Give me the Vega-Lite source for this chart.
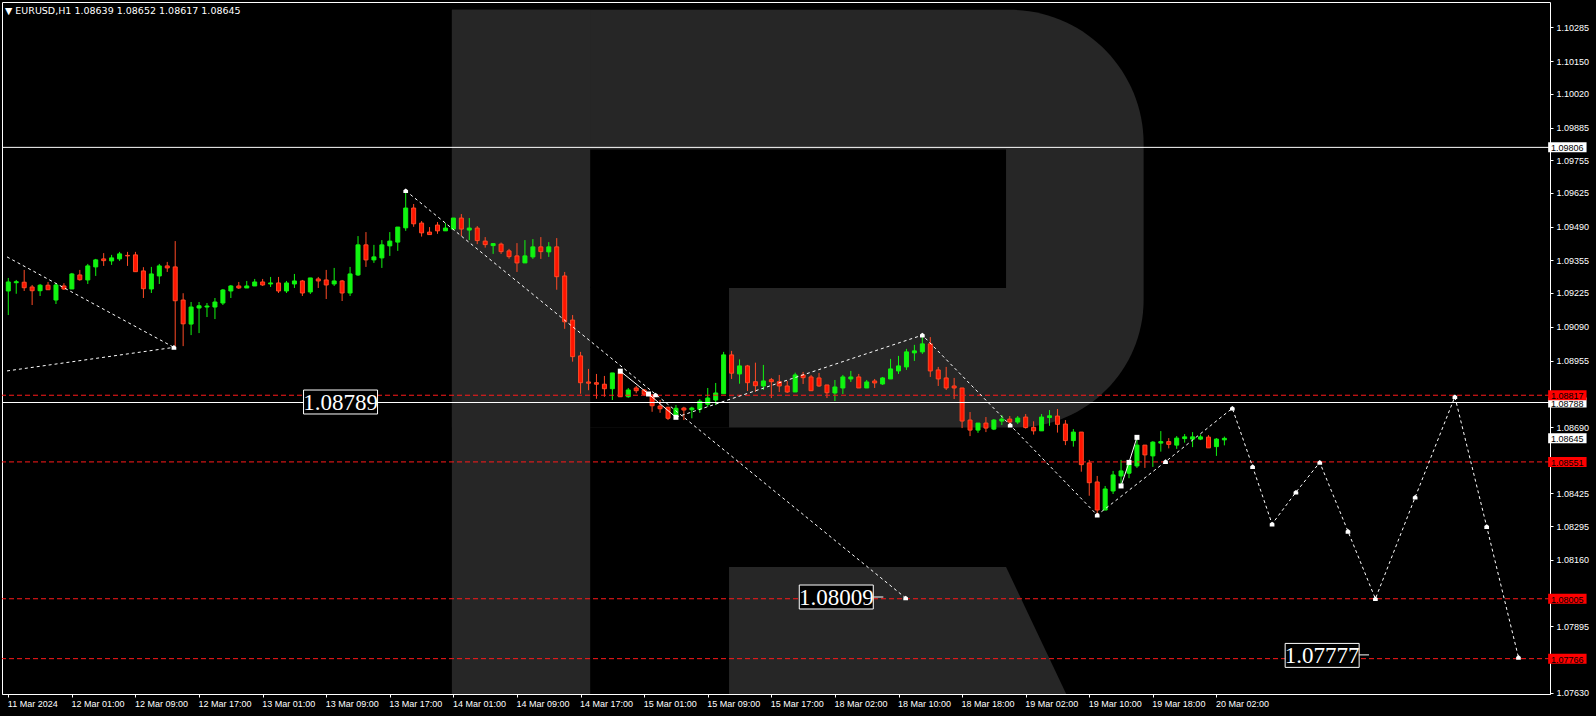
{
  "$schema": "https://vega.github.io/schema/vega-lite/v6.json",
  "width": 1548,
  "height": 692,
  "autosize": {"type": "none"},
  "padding": {"left": 2, "top": 2, "right": 46, "bottom": 22},
  "background": "#000000",
  "config": {
    "view": {"stroke": "#ffffff", "strokeWidth": 1, "fill": "#000000"},
    "font": "Liberation Sans",
    "axis": {"labelOverlap": false}
  },
  "title": {
    "text": "▼ EURUSD,H1  1.08639 1.08652 1.08617 1.08645",
    "anchor": "start",
    "frame": "group",
    "orient": "top",
    "offset": -13,
    "dx": 3,
    "color": "#ffffff",
    "fontSize": 9.5,
    "fontWeight": "normal",
    "font": "DejaVu Sans"
  },
  "datasets": {
    "candles": [
      {"i":0,"o":1.09233,"h":1.09285,"l":1.09137,"c":1.09269},
      {"i":1,"o":1.09266,"h":1.09277,"l":1.09222,"c":1.09270},
      {"i":2,"o":1.09268,"h":1.09317,"l":1.09233,"c":1.09246},
      {"i":3,"o":1.09249,"h":1.09257,"l":1.09177,"c":1.09234},
      {"i":4,"o":1.09234,"h":1.09261,"l":1.09213,"c":1.09256},
      {"i":5,"o":1.09256,"h":1.09269,"l":1.09238,"c":1.09238},
      {"i":6,"o":1.09197,"h":1.09264,"l":1.09181,"c":1.09257},
      {"i":7,"o":1.09253,"h":1.09264,"l":1.09237,"c":1.09241},
      {"i":8,"o":1.09241,"h":1.09305,"l":1.09241,"c":1.09301},
      {"i":9,"o":1.09297,"h":1.09317,"l":1.09274,"c":1.09278},
      {"i":10,"o":1.09277,"h":1.09341,"l":1.09261,"c":1.09333},
      {"i":11,"o":1.09329,"h":1.09361,"l":1.09293,"c":1.09357},
      {"i":12,"o":1.09361,"h":1.09384,"l":1.09333,"c":1.09354},
      {"i":13,"o":1.09353,"h":1.09377,"l":1.09337,"c":1.09365},
      {"i":14,"o":1.09361,"h":1.09389,"l":1.09353,"c":1.09381},
      {"i":15,"o":1.09375,"h":1.09389,"l":1.09333,"c":1.09373},
      {"i":16,"o":1.09377,"h":1.09389,"l":1.09310,"c":1.09310},
      {"i":17,"o":1.09313,"h":1.09328,"l":1.09205,"c":1.09242},
      {"i":18,"o":1.09241,"h":1.09329,"l":1.09225,"c":1.09301},
      {"i":19,"o":1.09293,"h":1.09341,"l":1.09261,"c":1.09333},
      {"i":20,"o":1.09333,"h":1.09349,"l":1.09309,"c":1.09325},
      {"i":21,"o":1.09329,"h":1.09432,"l":1.09011,"c":1.09194},
      {"i":22,"o":1.09197,"h":1.09224,"l":1.09013,"c":1.09102},
      {"i":23,"o":1.09101,"h":1.09189,"l":1.09057,"c":1.09169},
      {"i":24,"o":1.09165,"h":1.09189,"l":1.09065,"c":1.09174},
      {"i":25,"o":1.09169,"h":1.09185,"l":1.09129,"c":1.09173},
      {"i":26,"o":1.09169,"h":1.09205,"l":1.09121,"c":1.09189},
      {"i":27,"o":1.09185,"h":1.09241,"l":1.09177,"c":1.09237},
      {"i":28,"o":1.09233,"h":1.09257,"l":1.09205,"c":1.09253},
      {"i":29,"o":1.09253,"h":1.09269,"l":1.09241,"c":1.09245},
      {"i":30,"o":1.09245,"h":1.09273,"l":1.09245,"c":1.09253},
      {"i":31,"o":1.09253,"h":1.09281,"l":1.09253,"c":1.09269},
      {"i":32,"o":1.09269,"h":1.09281,"l":1.09253,"c":1.09257},
      {"i":33,"o":1.09261,"h":1.09289,"l":1.09249,"c":1.09265},
      {"i":34,"o":1.09265,"h":1.09289,"l":1.09225,"c":1.09233},
      {"i":35,"o":1.09233,"h":1.09273,"l":1.09225,"c":1.09265},
      {"i":36,"o":1.09261,"h":1.09301,"l":1.09245,"c":1.09273},
      {"i":37,"o":1.09273,"h":1.09277,"l":1.09213,"c":1.09225},
      {"i":38,"o":1.09229,"h":1.09285,"l":1.09221,"c":1.09285},
      {"i":39,"o":1.09281,"h":1.09289,"l":1.09245,"c":1.09273},
      {"i":40,"o":1.09277,"h":1.09317,"l":1.09201,"c":1.09257},
      {"i":41,"o":1.09261,"h":1.09325,"l":1.09253,"c":1.09273},
      {"i":42,"o":1.09273,"h":1.09277,"l":1.09193,"c":1.09225},
      {"i":43,"o":1.09225,"h":1.09329,"l":1.09213,"c":1.09301},
      {"i":44,"o":1.09297,"h":1.09452,"l":1.09293,"c":1.09417},
      {"i":45,"o":1.09417,"h":1.09468,"l":1.09329,"c":1.09357},
      {"i":46,"o":1.09357,"h":1.09417,"l":1.09345,"c":1.09369},
      {"i":47,"o":1.09365,"h":1.09436,"l":1.09325,"c":1.09417},
      {"i":48,"o":1.09413,"h":1.09468,"l":1.09373,"c":1.09432},
      {"i":49,"o":1.09428,"h":1.09488,"l":1.09393,"c":1.09488},
      {"i":50,"o":1.09485,"h":1.09625,"l":1.09473,"c":1.09564},
      {"i":51,"o":1.09564,"h":1.09580,"l":1.09489,"c":1.09501},
      {"i":52,"o":1.09504,"h":1.09512,"l":1.09450,"c":1.09465},
      {"i":53,"o":1.09468,"h":1.09488,"l":1.09458,"c":1.09458},
      {"i":54,"o":1.09496,"h":1.09508,"l":1.09461,"c":1.09473},
      {"i":55,"o":1.09473,"h":1.09504,"l":1.09473,"c":1.09484},
      {"i":56,"o":1.09480,"h":1.09524,"l":1.09480,"c":1.09524},
      {"i":57,"o":1.09524,"h":1.09540,"l":1.09452,"c":1.09480},
      {"i":58,"o":1.09476,"h":1.09524,"l":1.09436,"c":1.09484},
      {"i":59,"o":1.09484,"h":1.09492,"l":1.09420,"c":1.09434},
      {"i":60,"o":1.09432,"h":1.09448,"l":1.09406,"c":1.09418},
      {"i":61,"o":1.09414,"h":1.09422,"l":1.09381,"c":1.09422},
      {"i":62,"o":1.09420,"h":1.09426,"l":1.09381,"c":1.09390},
      {"i":63,"o":1.09393,"h":1.09401,"l":1.09362,"c":1.09370},
      {"i":64,"o":1.09373,"h":1.09424,"l":1.09309,"c":1.09345},
      {"i":65,"o":1.09345,"h":1.09436,"l":1.09345,"c":1.09373},
      {"i":66,"o":1.09369,"h":1.09440,"l":1.09361,"c":1.09409},
      {"i":67,"o":1.09409,"h":1.09448,"l":1.09361,"c":1.09390},
      {"i":68,"o":1.09389,"h":1.09428,"l":1.09369,"c":1.09409},
      {"i":69,"o":1.09409,"h":1.09444,"l":1.09238,"c":1.09290},
      {"i":70,"o":1.09293,"h":1.09309,"l":1.09082,"c":1.09110},
      {"i":71,"o":1.09117,"h":1.09137,"l":1.08951,"c":1.08971},
      {"i":72,"o":1.08974,"h":1.08990,"l":1.08823,"c":1.08867},
      {"i":73,"o":1.08870,"h":1.08922,"l":1.08837,"c":1.08865},
      {"i":74,"o":1.08867,"h":1.08902,"l":1.08803,"c":1.08861},
      {"i":75,"o":1.08861,"h":1.08894,"l":1.08811,"c":1.08843},
      {"i":76,"o":1.08843,"h":1.08906,"l":1.08798,"c":1.08906},
      {"i":77,"o":1.08905,"h":1.08922,"l":1.08811,"c":1.08811},
      {"i":78,"o":1.08811,"h":1.08846,"l":1.08807,"c":1.08838},
      {"i":79,"o":1.08846,"h":1.08854,"l":1.08825,"c":1.08835},
      {"i":80,"o":1.08838,"h":1.08842,"l":1.08814,"c":1.08821},
      {"i":81,"o":1.08814,"h":1.08822,"l":1.08751,"c":1.08775},
      {"i":82,"o":1.08774,"h":1.08798,"l":1.08747,"c":1.08763},
      {"i":83,"o":1.08769,"h":1.08771,"l":1.08718,"c":1.08725},
      {"i":84,"o":1.08737,"h":1.08778,"l":1.08722,"c":1.08765},
      {"i":85,"o":1.08766,"h":1.08771,"l":1.08718,"c":1.08758},
      {"i":86,"o":1.08759,"h":1.08771,"l":1.08725,"c":1.08766},
      {"i":87,"o":1.08761,"h":1.08802,"l":1.08747,"c":1.08793},
      {"i":88,"o":1.08781,"h":1.08846,"l":1.08771,"c":1.08806},
      {"i":89,"o":1.08798,"h":1.08866,"l":1.08778,"c":1.08826},
      {"i":90,"o":1.08823,"h":1.08990,"l":1.08823,"c":1.08978},
      {"i":91,"o":1.08978,"h":1.08994,"l":1.08882,"c":1.08905},
      {"i":92,"o":1.08902,"h":1.08960,"l":1.08863,"c":1.08934},
      {"i":93,"o":1.08934,"h":1.08938,"l":1.08834,"c":1.08867},
      {"i":94,"o":1.08871,"h":1.08947,"l":1.08830,"c":1.08855},
      {"i":95,"o":1.08854,"h":1.08938,"l":1.08838,"c":1.08874},
      {"i":96,"o":1.08879,"h":1.08886,"l":1.08806,"c":1.08871},
      {"i":97,"o":1.08871,"h":1.08898,"l":1.08830,"c":1.08854},
      {"i":98,"o":1.08854,"h":1.08874,"l":1.08826,"c":1.08830},
      {"i":99,"o":1.08830,"h":1.08907,"l":1.08830,"c":1.08898},
      {"i":100,"o":1.08898,"h":1.08910,"l":1.08862,"c":1.08887},
      {"i":101,"o":1.08890,"h":1.08898,"l":1.08835,"c":1.08835},
      {"i":102,"o":1.08886,"h":1.08906,"l":1.08850,"c":1.08854},
      {"i":103,"o":1.08858,"h":1.08858,"l":1.08806,"c":1.08827},
      {"i":104,"o":1.08826,"h":1.08878,"l":1.08794,"c":1.08850},
      {"i":105,"o":1.08846,"h":1.08898,"l":1.08822,"c":1.08890},
      {"i":106,"o":1.08882,"h":1.08914,"l":1.08870,"c":1.08890},
      {"i":107,"o":1.08890,"h":1.08902,"l":1.08846,"c":1.08846},
      {"i":108,"o":1.08846,"h":1.08878,"l":1.08846,"c":1.08870},
      {"i":109,"o":1.08874,"h":1.08882,"l":1.08846,"c":1.08866},
      {"i":110,"o":1.08862,"h":1.08890,"l":1.08858,"c":1.08886},
      {"i":111,"o":1.08882,"h":1.08962,"l":1.08882,"c":1.08922},
      {"i":112,"o":1.08914,"h":1.08974,"l":1.08902,"c":1.08934},
      {"i":113,"o":1.08930,"h":1.09002,"l":1.08918,"c":1.08990},
      {"i":114,"o":1.08986,"h":1.09018,"l":1.08954,"c":1.08994},
      {"i":115,"o":1.08990,"h":1.09049,"l":1.08982,"c":1.09022},
      {"i":116,"o":1.09022,"h":1.09049,"l":1.08890,"c":1.08914},
      {"i":117,"o":1.08918,"h":1.08930,"l":1.08854,"c":1.08882},
      {"i":118,"o":1.08886,"h":1.08930,"l":1.08838,"c":1.08846},
      {"i":119,"o":1.08854,"h":1.08886,"l":1.08802,"c":1.08846},
      {"i":120,"o":1.08846,"h":1.08846,"l":1.08686,"c":1.08714},
      {"i":121,"o":1.08718,"h":1.08750,"l":1.08654,"c":1.08678},
      {"i":122,"o":1.08678,"h":1.08706,"l":1.08667,"c":1.08706},
      {"i":123,"o":1.08706,"h":1.08730,"l":1.08670,"c":1.08686},
      {"i":124,"o":1.08682,"h":1.08722,"l":1.08678,"c":1.08718},
      {"i":125,"o":1.08714,"h":1.08738,"l":1.08698,"c":1.08722},
      {"i":126,"o":1.08722,"h":1.08734,"l":1.08698,"c":1.08710},
      {"i":127,"o":1.08710,"h":1.08734,"l":1.08702,"c":1.08726},
      {"i":128,"o":1.08730,"h":1.08742,"l":1.08684,"c":1.08688},
      {"i":129,"o":1.08689,"h":1.08713,"l":1.08660,"c":1.08675},
      {"i":130,"o":1.08675,"h":1.08742,"l":1.08675,"c":1.08730},
      {"i":131,"o":1.08728,"h":1.08758,"l":1.08695,"c":1.08735},
      {"i":132,"o":1.08734,"h":1.08762,"l":1.08668,"c":1.08701},
      {"i":133,"o":1.08702,"h":1.08718,"l":1.08618,"c":1.08636},
      {"i":134,"o":1.08636,"h":1.08682,"l":1.08612,"c":1.08670},
      {"i":135,"o":1.08670,"h":1.08670,"l":1.08512,"c":1.08540},
      {"i":136,"o":1.08547,"h":1.08559,"l":1.08416,"c":1.08468},
      {"i":137,"o":1.08471,"h":1.08495,"l":1.08332,"c":1.08359},
      {"i":138,"o":1.08359,"h":1.08455,"l":1.08359,"c":1.08443},
      {"i":139,"o":1.08435,"h":1.08515,"l":1.08423,"c":1.08499},
      {"i":140,"o":1.08495,"h":1.08559,"l":1.08455,"c":1.08515},
      {"i":141,"o":1.08506,"h":1.08549,"l":1.08486,"c":1.08541},
      {"i":142,"o":1.08535,"h":1.08649,"l":1.08527,"c":1.08618},
      {"i":143,"o":1.08618,"h":1.08618,"l":1.08527,"c":1.08579},
      {"i":144,"o":1.08575,"h":1.08634,"l":1.08531,"c":1.08630},
      {"i":145,"o":1.08626,"h":1.08674,"l":1.08592,"c":1.08632},
      {"i":146,"o":1.08632,"h":1.08646,"l":1.08605,"c":1.08621},
      {"i":147,"o":1.08618,"h":1.08654,"l":1.08603,"c":1.08646},
      {"i":148,"o":1.08644,"h":1.08662,"l":1.08628,"c":1.08651},
      {"i":149,"o":1.08642,"h":1.08670,"l":1.08610,"c":1.08651},
      {"i":150,"o":1.08642,"h":1.08660,"l":1.08638,"c":1.08651},
      {"i":151,"o":1.08650,"h":1.08658,"l":1.08607,"c":1.08607},
      {"i":152,"o":1.08612,"h":1.08646,"l":1.08575,"c":1.08642},
      {"i":153,"o":1.08639,"h":1.08652,"l":1.08617,"c":1.08645}
    ],
    "forecast": [
      {"g":"a","k":0,"i":-0.16,"p":1.09369},
      {"g":"a","k":1,"i":20.84,"p":1.09008},
      {"g":"b","k":0,"i":-0.16,"p":1.08914},
      {"g":"b","k":1,"i":20.84,"p":1.09008},
      {"g":"c","k":0,"i":50.0,"p":1.09633},
      {"g":"c","k":1,"i":112.9,"p":1.08008},
      {"g":"d","k":0,"i":84.0,"p":1.08729},
      {"g":"d","k":1,"i":115.0,"p":1.09057},
      {"g":"d","k":2,"i":126.05,"p":1.08698},
      {"g":"d","k":3,"i":137.0,"p":1.08339},
      {"g":"d","k":4,"i":145.6,"p":1.08552},
      {"g":"d","k":5,"i":154.0,"p":1.08765},
      {"g":"d","k":6,"i":156.55,"p":1.08532},
      {"g":"d","k":7,"i":159.0,"p":1.08303},
      {"g":"d","k":8,"i":162.0,"p":1.08430},
      {"g":"d","k":9,"i":165.0,"p":1.08549},
      {"g":"d","k":10,"i":168.55,"p":1.08274},
      {"g":"d","k":11,"i":172.0,"p":1.08005},
      {"g":"d","k":12,"i":177.0,"p":1.08410},
      {"g":"d","k":13,"i":182.0,"p":1.08811},
      {"g":"d","k":14,"i":186.0,"p":1.08293},
      {"g":"d","k":15,"i":190.0,"p":1.07771}
    ],
    "segments": [
      {"g":"s1","k":0,"i":77.0,"p":1.08913},
      {"g":"s1","k":1,"i":80.55,"p":1.08822},
      {"g":"s1","k":2,"i":84.0,"p":1.08729},
      {"g":"s2","k":0,"i":140.0,"p":1.08455},
      {"g":"s2","k":1,"i":141.0,"p":1.08549},
      {"g":"s2","k":2,"i":142.0,"p":1.08649}
    ],
    "arrows": [
      {"i":20.84,"p":1.09008},
      {"i":50.0,"p":1.09633},
      {"i":81.43,"p":1.08818},
      {"i":112.9,"p":1.08008},
      {"i":115.0,"p":1.09057},
      {"i":126.05,"p":1.08698},
      {"i":137.0,"p":1.08339},
      {"i":145.6,"p":1.08552},
      {"i":154.0,"p":1.08765},
      {"i":156.55,"p":1.08532},
      {"i":159.0,"p":1.08303},
      {"i":162.0,"p":1.08430},
      {"i":165.0,"p":1.08549},
      {"i":168.55,"p":1.08274},
      {"i":172.0,"p":1.08005},
      {"i":177.0,"p":1.08410},
      {"i":182.0,"p":1.08811},
      {"i":186.0,"p":1.08293},
      {"i":190.0,"p":1.07771}
    ],
    "redLines": [{"p":1.08817},{"p":1.08551},{"p":1.08005},{"p":1.07766}],
    "whiteLines": [{"p":1.09806},{"p":1.08788}],
    "labels": [
      {"t":"1.08789","i":41.8,"p":1.08790},
      {"t":"1.08009","i":104.17,"p":1.08012},
      {"t":"1.07777","i":165.3,"p":1.07779}
    ],
    "leaders": [
      {"i":108.83,"i2":110.09,"p":1.08012},
      {"i":169.95,"i2":171.2,"p":1.07781}
    ],
    "tags": [
      {"t":"1.09806","p":1.09806,"k":"w"},
      {"t":"1.08788","p":1.08788,"k":"w"},
      {"t":"1.08645","p":1.08645,"k":"w"},
      {"t":"1.08817","p":1.08817,"k":"r"},
      {"t":"1.08551","p":1.08551,"k":"r"},
      {"t":"1.08005","p":1.08005,"k":"r"},
      {"t":"1.07766","p":1.07766,"k":"r"}
    ],
    "leg": [
      {"p":1.08132,"a":90.68,"b":125.53},
      {"p":1.07625,"a":90.68,"b":133.1}
    ]
  },
  "layer": [
    {
      "data": {"values": [{}]},
      "mark": {"type": "rect", "color": "#262626", "cornerRadiusTopRight": 134, "cornerRadiusBottomRight": 128},
      "encoding": {
        "x": {"datum": 55.81, "type": "quantitative", "scale": {"domain": [-0.1625, 193.3375], "nice": false, "zero": false},
          "axis": {"values": [0,8,16,24,32,40,48,56,64,72,80,88,96,104,112,120,128,136,144,152],
            "tickCount": 40,
            "labelExpr": "['11 Mar 2024','12 Mar 01:00','12 Mar 09:00','12 Mar 17:00','13 Mar 01:00','13 Mar 09:00','13 Mar 17:00','14 Mar 01:00','14 Mar 09:00','14 Mar 17:00','15 Mar 01:00','15 Mar 09:00','15 Mar 17:00','18 Mar 02:00','18 Mar 10:00','18 Mar 18:00','19 Mar 02:00','19 Mar 10:00','19 Mar 18:00','20 Mar 02:00'][round(datum.value/8)]",
            "title": null, "grid": false, "orient": "bottom", "domainColor": "#ffffff", "tickColor": "#ffffff", "tickSize": 3,
            "labelColor": "#ffffff", "labelFontSize": 9, "labelFont": "Liberation Sans", "labelAlign": "left", "labelOffset": -1, "labelPadding": 2,
            "labelFlush": false, "labelOverlap": false, "labelBound": false, "zindex": 1}},
        "x2": {"datum": 142.84},
        "y": {"datum": 1.10355, "type": "quantitative", "scale": {"domain": [1.07625, 1.10386], "nice": false, "zero": false},
          "axis": {"values": [1.10285,1.1015,1.1002,1.09885,1.09755,1.09625,1.0949,1.09355,1.09225,1.0909,1.08955,1.0869,1.08425,1.08295,1.0816,1.07895,1.0763],
            "tickCount": 40,
            "format": ".5f", "title": null, "grid": false, "orient": "right", "domain": false, "tickColor": "#ffffff", "tickSize": 3,
            "labelColor": "#ffffff", "labelFontSize": 9, "labelFont": "Liberation Sans", "labelPadding": 3, "labelFlush": false, "labelOverlap": false, "labelBound": false}},
        "y2": {"datum": 1.08688}
      }
    },
    {
      "data": {"values": [{}]},
      "mark": {"type": "rect", "color": "#262626"},
      "encoding": {
        "x": {"datum": 55.81, "type": "quantitative"}, "x2": {"datum": 73.21},
        "y": {"datum": 1.10355, "type": "quantitative"}, "y2": {"datum": 1.07625}
      }
    },
    {
      "data": {"values": [{}]},
      "mark": {"type": "rect", "color": "#000000"},
      "encoding": {
        "x": {"datum": 73.21, "type": "quantitative"}, "x2": {"datum": 125.53},
        "y": {"datum": 1.09797, "type": "quantitative"}, "y2": {"datum": 1.09245}
      }
    },
    {
      "data": {"values": [{}]},
      "mark": {"type": "rect", "color": "#000000"},
      "encoding": {
        "x": {"datum": 73.21, "type": "quantitative"}, "x2": {"datum": 90.68},
        "y": {"datum": 1.09250, "type": "quantitative"}, "y2": {"datum": 1.08688}
      }
    },
    {
      "data": {"name": "leg"},
      "mark": {"type": "area", "orient": "horizontal", "color": "#262626"},
      "encoding": {
        "y": {"field": "p", "type": "quantitative"},
        "x": {"field": "a", "type": "quantitative"},
        "x2": {"field": "b"}
      }
    },
    {
      "data": {"name": "candles"},
      "mark": {"type": "rule", "strokeWidth": 1},
      "encoding": {
        "x": {"field": "i", "type": "quantitative"},
        "y": {"field": "l", "type": "quantitative"},
        "y2": {"field": "h"},
        "color": {"condition": {"test": "datum.c >= datum.o", "value": "#10f510"}, "value": "#ff4a26"}
      }
    },
    {
      "data": {"name": "candles"},
      "mark": {"type": "bar", "width": 4, "strokeWidth": 1},
      "encoding": {
        "x": {"field": "i", "type": "quantitative"},
        "y": {"field": "o", "type": "quantitative"},
        "y2": {"field": "c"},
        "fill": {"condition": {"test": "datum.c >= datum.o", "value": "#10f510"}, "value": "#ff1400"},
        "stroke": {"condition": {"test": "datum.c >= datum.o", "value": "#10f510"}, "value": "#ff4a26"}
      }
    },
    {
      "data": {"name": "redLines"},
      "mark": {"type": "rule", "color": "#ff1a1a", "strokeWidth": 1, "strokeDash": [5, 3]},
      "encoding": {"y": {"field": "p", "type": "quantitative"}}
    },
    {
      "data": {"name": "whiteLines"},
      "mark": {"type": "rule", "color": "#ffffff", "strokeWidth": 1},
      "encoding": {"y": {"field": "p", "type": "quantitative"}}
    },
    {
      "data": {"name": "forecast"},
      "mark": {"type": "line", "color": "#ffffff", "strokeWidth": 1, "strokeDash": [3, 3]},
      "encoding": {
        "x": {"field": "i", "type": "quantitative"},
        "y": {"field": "p", "type": "quantitative"},
        "detail": {"field": "g"},
        "order": {"field": "k"}
      }
    },
    {
      "data": {"name": "segments"},
      "mark": {"type": "line", "color": "#ffffff", "strokeWidth": 1},
      "encoding": {
        "x": {"field": "i", "type": "quantitative"},
        "y": {"field": "p", "type": "quantitative"},
        "detail": {"field": "g"},
        "order": {"field": "k"}
      }
    },
    {
      "data": {"name": "segments"},
      "mark": {"type": "point", "shape": "square", "filled": true, "color": "#ffffff", "size": 25, "opacity": 1},
      "encoding": {
        "x": {"field": "i", "type": "quantitative"},
        "y": {"field": "p", "type": "quantitative"}
      }
    },
    {
      "data": {"name": "arrows"},
      "mark": {"type": "point", "shape": "M-1,1L-1,-0.2L0,-1L1,-0.2L1,1Z", "filled": true, "color": "#ffffff", "size": 22, "opacity": 1},
      "encoding": {
        "x": {"field": "i", "type": "quantitative"},
        "y": {"field": "p", "type": "quantitative"}
      }
    },
    {
      "data": {"name": "leaders"},
      "mark": {"type": "rule", "color": "#ffffff", "strokeWidth": 1},
      "encoding": {
        "x": {"field": "i", "type": "quantitative"},
        "x2": {"field": "i2"},
        "y": {"field": "p", "type": "quantitative"}
      }
    },
    {
      "data": {"name": "labels"},
      "mark": {"type": "point", "shape": "M-1,-0.324H1V0.324H-1Z", "filled": true, "fill": "#000000", "stroke": "#ffffff", "strokeWidth": 1, "size": 5476, "opacity": 1, "fillOpacity": 1},
      "encoding": {
        "x": {"field": "i", "type": "quantitative"},
        "y": {"field": "p", "type": "quantitative"}
      }
    },
    {
      "data": {"name": "labels"},
      "mark": {"type": "text", "color": "#ffffff", "font": "Liberation Sans Narrow", "fontSize": 23, "align": "center", "baseline": "middle", "dy": 1},
      "encoding": {
        "x": {"field": "i", "type": "quantitative"},
        "y": {"field": "p", "type": "quantitative"},
        "text": {"field": "t"}
      }
    },
    {
      "data": {"name": "tags"},
      "mark": {"type": "point", "shape": "M-1,-0.26H1V0.26H-1Z", "filled": true, "size": 1475, "opacity": 1, "strokeWidth": 0},
      "encoding": {
        "x": {"datum": 196.15, "type": "quantitative"},
        "y": {"field": "p", "type": "quantitative"},
        "color": {"condition": {"test": "datum.k == 'r'", "value": "#ff0000"}, "value": "#ffffff"}
      }
    },
    {
      "data": {"name": "tags"},
      "mark": {"type": "text", "color": "#000000", "font": "Liberation Sans", "fontSize": 9, "align": "center", "baseline": "middle", "dy": 1},
      "encoding": {
        "x": {"datum": 196.15, "type": "quantitative"},
        "y": {"field": "p", "type": "quantitative"},
        "text": {"field": "t"}
      }
    }
  ]
}
